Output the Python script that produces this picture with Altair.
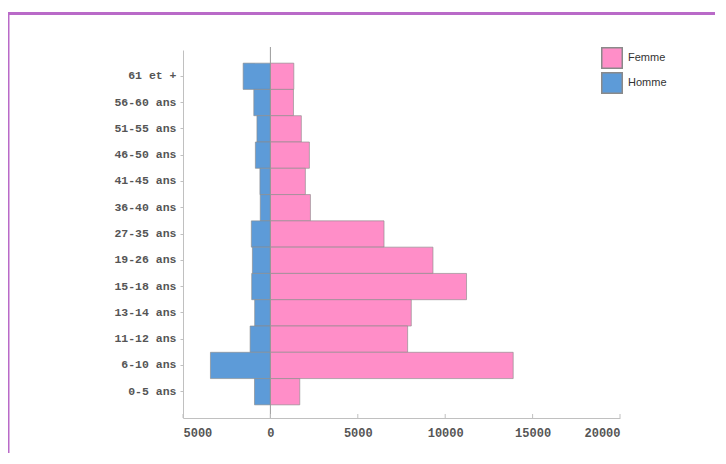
import altair as alt
import pandas as pd

ages = ["61 et +", "56-60 ans", "51-55 ans", "46-50 ans", "41-45 ans", "36-40 ans",
        "27-35 ans", "19-26 ans", "15-18 ans", "13-14 ans", "11-12 ans", "6-10 ans", "0-5 ans"]
femme = [1340, 1320, 1770, 2230, 2000, 2290, 6500, 9300, 11220, 8060, 7850, 13890, 1680]
homme = [1560, 950, 770, 860, 600, 580, 1090, 1030, 1070, 900, 1160, 3430, 910]
x_ticks = [-5000, 0, 5000, 10000, 15000, 20000]

rows = []
for a, f, h in zip(ages, femme, homme):
    rows.append({"age": a, "sexe": "Femme", "value": f})
    rows.append({"age": a, "sexe": "Homme", "value": -h})
df = pd.DataFrame(rows)
ticks_df = pd.DataFrame({"t": x_ticks})

W, H = 437, 368
xscale = alt.Scale(domain=[-5000, 20000], nice=False, zero=False)
yscale = alt.Scale(domain=ages, paddingInner=0, paddingOuter=0.5)

bars = alt.Chart(df).mark_bar(stroke="#8a8a8a", strokeWidth=0.8, strokeOpacity=0.8).encode(
    x=alt.X("value:Q", scale=xscale, stack=None,
            axis=alt.Axis(values=x_ticks, title=None, grid=False, ticks=False,
                          labelExpr="format(abs(datum.value), 'd')",
                          labelFont="Liberation Mono", labelFontSize=12, labelColor="#555",
                          labelPadding=9, domainColor="#c0c0c0", labelFontWeight="bold")),
    x2=alt.datum(0),
    y=alt.Y("age:N", scale=yscale, sort=ages,
            axis=alt.Axis(title=None, grid=False, tickSize=3, tickColor="#c0c0c0",
                          labelFont="Liberation Mono", labelFontSize=11.5, labelColor="#555",
                          labelPadding=4, domainColor="#c0c0c0", labelFontWeight="bold")),
    color=alt.Color("sexe:N",
                    scale=alt.Scale(domain=["Femme", "Homme"], range=["#ff8ec8", "#5d9bd8"]),
                    legend=alt.Legend(title=None, orient="none", legendX=418, legendY=-3,
                                      symbolType="square", symbolSize=420,
                                      symbolStrokeColor="#8a8a8a", symbolStrokeWidth=1.5,
                                      symbolOpacity=1, labelFont="Liberation Sans",
                                      labelFontSize=11, labelColor="#333", labelOffset=5,
                                      rowPadding=-5, padding=0)),
)

zero = alt.Chart(pd.DataFrame({"z": [0]})).mark_rule(color="#9a9a9a", strokeWidth=1).encode(
    x=alt.X("z:Q", scale=xscale), y=alt.value(-3), y2=alt.value(H)
)

xticks = alt.Chart(ticks_df).mark_rule(color="#c0c0c0", strokeWidth=1).encode(
    x=alt.X("t:Q", scale=xscale), y=alt.value(H - 4), y2=alt.value(H)
)

frame_top = alt.Chart(pd.DataFrame({"a": [0]})).mark_rule(color="#b96ac8", strokeWidth=3).encode(
    x=alt.value(-176), x2=alt.value(560), y=alt.value(-36.5)
)
frame_left = alt.Chart(pd.DataFrame({"a": [0]})).mark_rule(color="#b96ac8", strokeWidth=3).encode(
    x=alt.value(-175), y=alt.value(-38), y2=alt.value(420)
)

chart = alt.layer(frame_top, frame_left, bars, zero, xticks).properties(
    width=W, height=H,
    autosize=alt.AutoSizeParams(type="none"),
    padding={"left": 175, "top": 42, "right": 95, "bottom": 35},
    background="white",
).configure_view(stroke=None)

chart.save("out.html", embed_options={"renderer": "svg", "actions": False})
